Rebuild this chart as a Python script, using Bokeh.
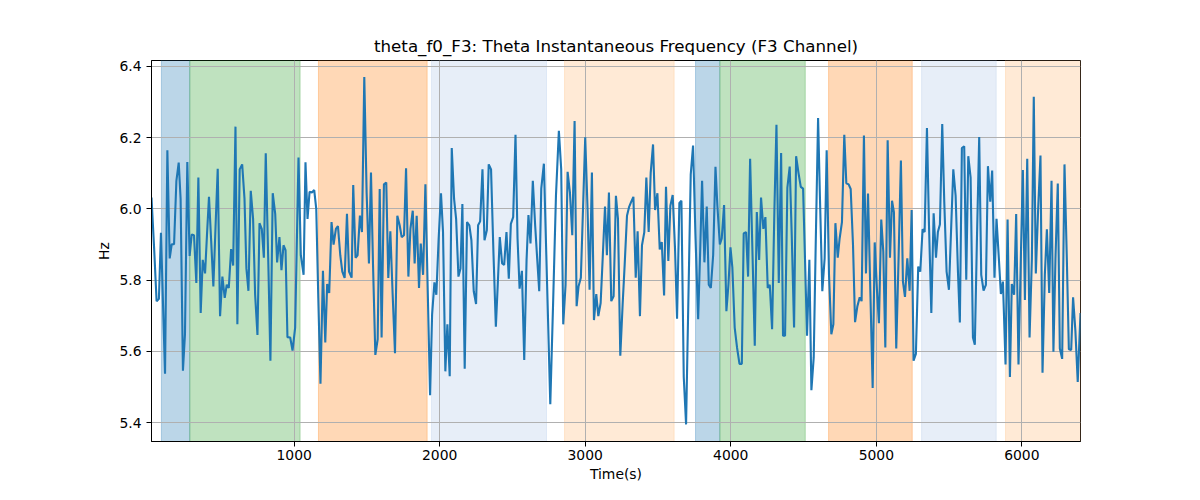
from bokeh.plotting import figure
from bokeh.models import Range1d, FixedTicker, PrintfTickFormatter
from bokeh.embed import file_html
from bokeh.resources import INLINE

time_s = [20, 38, 55, 71, 85, 113, 129, 145, 159, 175, 191, 207, 220, 236, 250, 266, 282, 296, 312, 328,
          342, 358, 372, 388, 401, 415, 430, 445, 460, 475, 491, 507, 523, 537, 551, 567, 581, 597, 610, 626,
          643, 659, 672, 686, 702, 718, 732, 748, 762, 778, 792, 805, 824, 837, 853, 870, 883, 899, 913, 927,
          941, 954, 973, 989, 1007, 1030, 1046, 1065, 1078, 1092, 1106, 1122, 1138, 1152, 1166, 1181, 1198, 1214, 1227, 1241,
          1257, 1271, 1287, 1301, 1317, 1331, 1347, 1363, 1377, 1395, 1406, 1422, 1436, 1452, 1466, 1482, 1498, 1514, 1528, 1542,
          1558, 1574, 1588, 1601, 1617, 1633, 1647, 1661, 1677, 1693, 1709, 1725, 1739, 1755, 1769, 1785, 1799, 1815, 1828, 1842,
          1858, 1870, 1886, 1902, 1918, 1934, 1948, 1964, 1977, 1993, 2009, 2023, 2039, 2053, 2069, 2083, 2099, 2113, 2129, 2143,
          2156, 2172, 2188, 2204, 2218, 2234, 2250, 2264, 2278, 2294, 2308, 2324, 2337, 2353, 2370, 2386, 2399, 2413, 2429, 2443,
          2459, 2475, 2489, 2505, 2521, 2535, 2549, 2565, 2581, 2597, 2610, 2624, 2640, 2656, 2670, 2684, 2698, 2716, 2738, 2760,
          2779, 2799, 2819, 2835, 2849, 2865, 2879, 2895, 2911, 2927, 2941, 2954, 2970, 2987, 3000, 3016, 3030, 3046, 3060, 3076,
          3090, 3106, 3120, 3136, 3149, 3163, 3179, 3195, 3211, 3225, 3241, 3257, 3271, 3287, 3301, 3315, 3331, 3347, 3360, 3376,
          3390, 3406, 3420, 3436, 3450, 3466, 3480, 3496, 3512, 3526, 3542, 3555, 3571, 3585, 3601, 3617, 3631, 3647, 3661, 3677,
          3693, 3709, 3725, 3741, 3757, 3776, 3790, 3803, 3819, 3835, 3849, 3863, 3879, 3895, 3908, 3925, 3938, 3954, 3970, 3984,
          3998, 4011, 4027, 4043, 4060, 4076, 4089, 4105, 4119, 4133, 4149, 4165, 4179, 4195, 4208, 4224, 4238, 4254, 4268, 4284,
          4300, 4314, 4330, 4346, 4359, 4373, 4389, 4405, 4419, 4435, 4449, 4465, 4481, 4497, 4510, 4524, 4540, 4554, 4570, 4584,
          4600, 4613, 4629, 4645, 4659, 4675, 4691, 4705, 4719, 4735, 4748, 4764, 4780, 4794, 4810, 4824, 4840, 4854, 4870, 4886,
          4899, 4915, 4929, 4943, 4959, 4975, 4989, 5005, 5018, 5034, 5048, 5062, 5078, 5094, 5108, 5121, 5137, 5153, 5169, 5183,
          5197, 5213, 5229, 5243, 5256, 5272, 5288, 5302, 5318, 5332, 5348, 5362, 5378, 5394, 5410, 5423, 5437, 5453, 5467, 5483,
          5499, 5515, 5529, 5545, 5561, 5574, 5588, 5604, 5618, 5632, 5648, 5664, 5677, 5691, 5707, 5721, 5737, 5753, 5767, 5783,
          5796, 5812, 5826, 5842, 5856, 5870, 5888, 5902, 5918, 5931, 5947, 5961, 5977, 5993, 6007, 6021, 6037, 6053, 6069, 6082,
          6096, 6112, 6128, 6142, 6158, 6172, 6188, 6204, 6217, 6231, 6247, 6261, 6277, 6293, 6309, 6323, 6339, 6352, 6368, 6384,
          6403]

freq_hz = [6.032, 5.89, 5.741, 5.748, 5.933, 5.537, 6.165, 5.861, 5.901, 5.901, 6.079, 6.130, 6.028, 5.546, 5.648, 6.132, 5.868, 5.928, 5.926, 5.792,
           6.088, 5.708, 5.857, 5.819, 5.925, 6.034, 5.91, 5.782, 5.95, 6.113, 5.699, 5.810, 5.750, 5.787, 5.778, 5.887, 5.841, 6.231, 5.676, 6.111,
           6.125, 6.028, 5.833, 5.770, 6.051, 5.972, 5.759, 5.646, 5.960, 5.943, 5.863, 6.156, 5.824, 5.574, 6.044, 5.986, 5.850, 5.921, 5.828, 5.898,
           5.884, 5.640, 5.639, 5.602, 5.667, 6.144, 5.870, 5.815, 6.131, 5.972, 6.048, 6.046, 6.053, 6.000, 5.75, 5.509, 5.826, 5.625, 5.789, 5.764,
           5.963, 5.900, 5.944, 5.952, 5.870, 5.824, 5.806, 5.986, 5.824, 5.807, 6.067, 5.863, 5.870, 5.981, 5.935, 6.370, 6.046, 5.847, 6.102, 5.843,
           5.590, 5.634, 6.056, 5.639, 6.069, 6.074, 5.806, 5.937, 5.759, 5.595, 5.981, 5.954, 5.921, 5.926, 6.114, 5.810, 5.944, 5.995, 5.847, 5.981,
           5.778, 5.903, 5.815, 6.069, 5.77, 5.477, 5.704, 5.794, 5.759, 5.917, 6.044, 5.935, 5.544, 5.676, 5.530, 6.171, 6.028, 5.972, 5.810, 5.833,
           6.014, 5.551, 5.963, 5.954, 5.912, 5.769, 5.733, 5.954, 5.965, 6.111, 5.912, 5.940, 6.125, 6.111, 5.870, 5.669, 5.787, 5.921, 5.847, 5.843,
           5.935, 5.804, 5.958, 5.977, 6.208, 5.917, 5.776, 5.826, 5.576, 5.857, 5.983, 5.903, 6.079, 5.954, 5.86, 5.769, 6.057, 6.127, 5.79, 5.452,
           5.73, 6.037, 6.219, 6.111, 5.676, 5.787, 6.104, 6.046, 5.926, 6.247, 5.727, 5.782, 5.807, 6.028, 6.201, 6.000, 5.773, 6.102, 5.688, 5.761,
           5.699, 5.736, 5.861, 6.007, 5.870, 6.046, 5.741, 5.755, 6.037, 5.972, 5.588, 5.731, 5.843, 5.981, 6.005, 6.019, 6.034, 5.807, 5.937, 5.699,
           5.898, 5.935, 6.088, 5.935, 6.102, 6.181, 5.997, 6.044, 5.886, 5.907, 5.757, 6.062, 5.854, 6.009, 6.039, 5.889, 5.692, 6.017, 6.023, 5.528,
           5.395, 5.750, 6.097, 6.178, 5.93, 5.690, 5.884, 6.079, 5.850, 6.007, 5.787, 5.778, 5.870, 6.118, 6.009, 5.900, 5.917, 6.011, 5.713, 5.787,
           5.892, 5.835, 5.667, 5.611, 5.565, 5.565, 5.931, 5.935, 5.810, 6.141, 5.880, 5.616, 5.991, 5.857, 6.032, 5.944, 5.977, 5.778, 5.787, 5.662,
           6.000, 6.236, 5.792, 6.157, 5.644, 5.644, 6.060, 6.119, 5.926, 5.667, 6.148, 6.102, 6.062, 6.057, 5.861, 5.644, 5.857, 5.491, 5.583, 5.907,
           6.255, 6.028, 5.769, 5.861, 6.165, 5.815, 5.648, 5.676, 5.960, 5.863, 5.917, 5.963, 6.208, 6.072, 6.069, 6.056, 5.898, 5.682, 5.727, 5.752,
           5.741, 6.206, 5.819, 6.043, 5.769, 5.497, 5.906, 5.769, 5.679, 5.970, 5.880, 5.611, 6.193, 5.863, 6.023, 5.991, 5.608, 5.861, 6.136, 5.796,
           5.753, 5.861, 5.770, 5.997, 5.574, 5.593, 5.838, 5.824, 5.943, 5.935, 6.227, 5.954, 5.708, 5.988, 5.863, 5.935, 5.956, 6.238, 6.019, 5.824,
           5.773, 5.954, 6.111, 6.037, 5.824, 5.681, 6.171, 6.176, 5.801, 6.148, 6.088, 5.639, 5.619, 5.907, 6.202, 5.815, 5.771, 5.787, 6.120, 6.020,
           6.108, 5.807, 5.972, 5.861, 5.761, 5.796, 5.563, 5.970, 5.528, 5.789, 5.759, 5.986, 5.563, 5.861, 6.109, 5.744, 6.141, 5.639, 5.861, 6.315,
           5.819, 6.000, 6.150, 5.540, 5.815, 5.943, 5.764, 6.079, 5.599, 5.861, 6.071, 5.608, 5.579, 6.125, 5.861, 5.606, 5.604, 5.752, 5.657, 5.514,
           5.708]

band_start = [88, 283, 1167, 1944, 2858, 3758, 3925, 4672, 5311, 5888]
band_end = [283, 1041, 1914, 2734, 3611, 3925, 4512, 5247, 5824, 6403]
band_kind = [0, 1, 2, 3, 4, 0, 1, 2, 3, 4]

y_ticks = [5.4, 5.6, 5.8, 6.0, 6.2, 6.4]
x_ticks = [1000, 2000, 3000, 4000, 5000, 6000]

palette = ["#1f77b4", "#2ca02c", "#ff7f0e", "#aec7e8", "#ffbb78"]
band_colors = [palette[k] for k in band_kind]

p = figure(width=1184, height=484,
           x_range=Range1d(time_s[0], time_s[-1]),
           y_range=Range1d(5.347, 6.4167),
           output_backend="svg", toolbar_location=None,
           min_border_left=151, min_border_right=104,
           min_border_top=60, min_border_bottom=10)

p.quad(left=band_start, right=band_end, bottom=5.0, top=7.0,
       fill_color=band_colors, fill_alpha=0.3,
       line_color=band_colors, line_alpha=0.3, line_width=1,
       level="underlay")

p.line(time_s, freq_hz, line_color="#1f77b4", line_width=2.1)

p.title.text = "theta_f0_F3: Theta Instantaneous Frequency (F3 Channel)"
p.title.align = "center"
p.title.text_font = "DejaVu Sans"
p.title.text_font_size = "16.7px"
p.title.text_font_style = "normal"
p.title.text_color = "black"

p.xaxis.axis_label = "Time(s)"
p.yaxis.axis_label = "Hz"
for ax in (p.xaxis, p.yaxis):
    ax.axis_label_text_font = "DejaVu Sans"
    ax.axis_label_text_font_size = "13.9px"
    ax.axis_label_text_font_style = "normal"
    ax.axis_label_text_color = "black"
    ax.major_label_text_font = "DejaVu Sans"
    ax.major_label_text_font_size = "13.9px"
    ax.major_label_text_color = "black"
    ax.axis_line_color = "black"
    ax.axis_line_width = 1
    ax.major_tick_line_color = "black"
    ax.major_tick_line_width = 1
    ax.major_tick_out = 5
    ax.major_tick_in = 0
    ax.minor_tick_out = 0
    ax.minor_tick_in = 0

p.xaxis.ticker = FixedTicker(ticks=x_ticks)
p.yaxis.ticker = FixedTicker(ticks=y_ticks)
p.yaxis.formatter = PrintfTickFormatter(format="%.1f")
p.xaxis.major_label_standoff = 3
p.xaxis.axis_label_standoff = 3
p.yaxis.axis_label_standoff = 4

p.grid.grid_line_color = "#b0b0b0"
p.grid.grid_line_width = 1
p.outline_line_color = "black"
p.outline_line_width = 1
p.outline_line_alpha = 1
p.background_fill_color = "white"
p.border_fill_color = "white"

open("out.html", "w").write(file_html(p, INLINE))
